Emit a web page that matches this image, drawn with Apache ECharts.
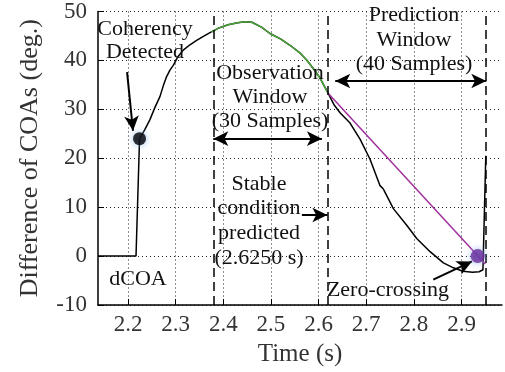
<!DOCTYPE html>
<html>
<head>
<meta charset="utf-8">
<script src="https://cdn.jsdelivr.net/npm/echarts@6/dist/echarts.min.js"></script>
<style>
html,body{margin:0;padding:0;background:#fff;}
#chart{width:505px;height:372px;}
</style>
</head>
<body>
<div id="chart"></div>
<script>
// ---- data ----
const xTicks = [2.2, 2.3, 2.4, 2.5, 2.6, 2.7, 2.8, 2.9];
const dcoaTime = [2.137, 2.2168, 2.2242, 2.235, 2.246, 2.257, 2.267, 2.274, 2.281, 2.288, 2.295, 2.305, 2.316, 2.33, 2.344, 2.36, 2.374,
  2.39, 2.41, 2.43, 2.446, 2.46, 2.48, 2.498, 2.52, 2.54, 2.56, 2.575, 2.59, 2.603, 2.62,
  2.632, 2.645, 2.666, 2.687, 2.708, 2.729, 2.736, 2.757, 2.785, 2.806, 2.834, 2.862, 2.883, 2.903, 2.923, 2.937, 2.945, 2.949, 2.951];
const dcoaValue = [0, 0, 24, 25.8, 27.9, 30.5, 32.6, 34.8, 36.7, 38.0, 39.0, 40.8, 42.1, 43.2, 44.1, 45.0, 45.8,
  46.6, 47.3, 47.7, 47.9, 47.8, 46.8, 45.5, 44.4, 43.1, 41.6, 40.1, 38.2, 36.4, 33.3,
  31.0, 29.3, 27.2, 23.9, 19.8, 14.4, 13.7, 9.7, 6.3, 3.6, 0.9, -1.4, -2.4, -3.1, -3.3, -3.2, -2.8, -2.5, 20.5];
const obsTime = [2.375, 2.39, 2.41, 2.43, 2.446, 2.46, 2.48, 2.498, 2.52, 2.54, 2.56, 2.575, 2.59, 2.603, 2.62];
const obsValue = [45.8, 46.6, 47.3, 47.7, 47.9, 47.8, 46.8, 45.5, 44.4, 43.1, 41.6, 40.1, 38.2, 36.4, 33.3];
const predTime = [2.62, 2.95];
const predValue = [33.3, -1.6];
const coherencyPoint = [2.2242, 24];
const zeroCrossPoint = [2.934, 0];
const windowLines = [2.375, 2.62, 2.952];

const zip = (a, b) => a.map((v, i) => [v, b[i]]);
const FONT = 'Liberation Serif';
const chart = echarts.init(document.getElementById('chart'));

const arrowStyle = {color: '#000', width: 2, type: 'solid'};
chart.setOption({
  animation: false,
  backgroundColor: '#fff',
  grid: {left: 98, right: 3, top: 11, bottom: 65},
  xAxis: {
    type: 'value', min: 2.137, max: 2.985,
    name: 'Time (s)', nameLocation: 'middle', nameGap: 37,
    nameTextStyle: {fontFamily: FONT, fontSize: 25, color: '#333'},
    axisLine: {show: true, onZero: false, lineStyle: {color: '#000', width: 1.5}},
    axisTick: {show: true, inside: true, length: 6, customValues: xTicks, lineStyle: {color: '#000'}},
    axisLabel: {customValues: xTicks, fontFamily: FONT, fontSize: 23, color: '#333', margin: 8,
      formatter: v => v.toFixed(1)},
    splitLine: {show: true, lineStyle: {color: '#222', type: [1, 3], width: 1}}
  },
  yAxis: {
    type: 'value', min: -10, max: 50, interval: 10,
    name: 'Difference of COAs (deg.)', nameLocation: 'middle', nameGap: 55,
    nameTextStyle: {fontFamily: FONT, fontSize: 26, color: '#333'},
    axisLine: {show: true, onZero: false, lineStyle: {color: '#000', width: 1.5}},
    axisTick: {show: true, inside: true, length: 6, lineStyle: {color: '#000'}},
    axisLabel: {fontFamily: FONT, fontSize: 23, color: '#333', margin: 11},
    splitLine: {show: true, lineStyle: {color: '#222', type: [1, 3], width: 1}}
  },
  series: [
    {
      type: 'line', name: 'dCOA', data: zip(dcoaTime, dcoaValue), symbol: 'none',
      lineStyle: {color: '#000', width: 1.5}, z: 3,
      markLine: {
        silent: true, symbol: 'none', label: {show: false},
        lineStyle: {color: '#000', type: [9, 5], width: 1.5},
        data: windowLines.map(x => ({xAxis: x}))
      }
    },
    {
      type: 'line', name: 'Observation', data: zip(obsTime, obsValue), symbol: 'none',
      lineStyle: {color: '#4aa23a', width: 1.5}, z: 4
    },
    {
      type: 'line', name: 'Prediction', data: zip(predTime, predValue), symbol: 'none',
      lineStyle: {color: '#a0309c', width: 1.5}, z: 4,
      markLine: {
        silent: true, label: {show: false}, symbol: ['arrow', 'arrow'], symbolSize: [11, 15],
        lineStyle: arrowStyle,
        data: [
          [{coord: [2.379, 24.0], symbol: 'arrow'}, {coord: [2.607, 24.0], symbol: 'arrow'}],
          [{coord: [2.635, 35.8], symbol: 'arrow'}, {coord: [2.952, 35.8], symbol: 'arrow'}],
          [{coord: [2.565, 8.4], symbol: 'none'}, {coord: [2.6185, 8.4], symbol: 'arrow'}],
          [{coord: [2.8408, -4.8], symbol: 'none'}, {coord: [2.922, -1.1], symbol: 'arrow'}],
          [{coord: [2.198, 37.6], symbol: 'none'}, {coord: [2.2105, 25.6], symbol: 'arrow',
            lineStyle: {curveness: -0.3}}]
        ]
      }
    },
    {
      type: 'scatter', data: [coherencyPoint], symbolSize: 13, z: 6,
      itemStyle: {color: '#000', shadowBlur: 6, shadowColor: 'rgba(120,170,230,0.9)'}
    },
    {
      type: 'scatter', data: [zeroCrossPoint], symbolSize: 14, z: 6,
      itemStyle: {color: '#6a2a9a', shadowBlur: 6, shadowColor: 'rgba(120,170,230,0.9)'}
    }
  ],
  graphic: [
    {type: 'text', x: 145, y: 41, z: 10, style: {text: 'Coherency\nDetected', font: '22px "Liberation Serif"', fill: '#111', align: 'center', verticalAlign: 'middle', lineHeight: 23}},
    {type: 'text', x: 270, y: 97, z: 10, style: {text: 'Observation\nWindow\n(30 Samples)', font: '22px "Liberation Serif"', fill: '#111', align: 'center', verticalAlign: 'middle', lineHeight: 24}},
    {type: 'text', x: 414, y: 40, z: 10, style: {text: 'Prediction\nWindow\n(40 Samples)', font: '22px "Liberation Serif"', fill: '#111', align: 'center', verticalAlign: 'middle', lineHeight: 24.5}},
    {type: 'text', x: 259, y: 221, z: 10, style: {text: 'Stable\ncondition\npredicted\n(2.6250 s)', font: '22px "Liberation Serif"', fill: '#111', align: 'center', verticalAlign: 'middle', lineHeight: 24.7}},
    {type: 'text', x: 138, y: 279, z: 10, style: {text: 'dCOA', font: '22px "Liberation Serif"', fill: '#111', align: 'center', verticalAlign: 'middle'}},
    {type: 'text', x: 388, y: 290, z: 10, style: {text: 'Zero-crossing', font: '22px "Liberation Serif"', fill: '#111', align: 'center', verticalAlign: 'middle'}}
  ]
});
</script>
</body>
</html>
